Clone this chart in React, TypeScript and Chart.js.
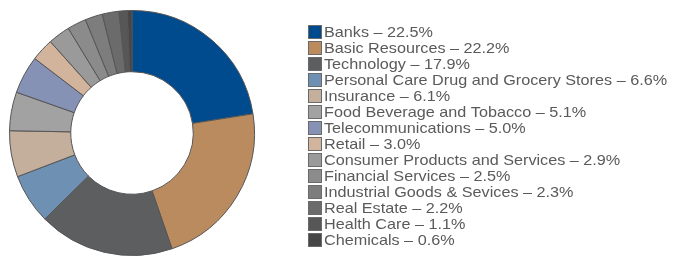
import React, { useEffect, useRef } from "react";
import { Chart, registerables } from "chart.js";

Chart.register(...registerables);

const sectors = [
  "Banks",
  "Basic Resources",
  "Technology",
  "Personal Care Drug and Grocery Stores",
  "Insurance",
  "Food Beverage and Tobacco",
  "Telecommunications",
  "Retail",
  "Consumer Products and Services",
  "Financial Services",
  "Industrial Goods & Sevices",
  "Real Estate",
  "Health Care",
  "Chemicals",
];

const weights = [22.5, 22.2, 17.9, 6.6, 6.1, 5.1, 5.0, 3.0, 2.9, 2.5, 2.3, 2.2, 1.1, 0.6];

const sectorColors = [
  "#004B8D",
  "#B98B5E",
  "#5D5E60",
  "#6E91B3",
  "#C4AE9C",
  "#A2A2A2",
  "#8591B5",
  "#D2B39B",
  "#9A9A9A",
  "#8B8B8B",
  "#7D7D7D",
  "#6B6B6B",
  "#575757",
  "#464646",
];

const sideLegend = {
  id: "sideLegend",
  afterDraw(chart: any) {
    const ctx = chart.ctx;
    const ds = chart.data.datasets[0];
    const labels = chart.data.labels as string[];
    ctx.save();
    ctx.textBaseline = "middle";
    ctx.textAlign = "left";
    labels.forEach((lab, i) => {
      const y = 25 + i * 16;
      ctx.fillStyle = ds.backgroundColor[i];
      ctx.fillRect(308, y, 14, 14);
      ctx.strokeStyle = "#6a6a6a";
      ctx.lineWidth = 1;
      ctx.strokeRect(308.5, y + 0.5, 13, 13);
      ctx.save();
      ctx.translate(324, y + 8);
      ctx.scale(1.08, 1);
      ctx.font = '15px "Liberation Sans", Arial, sans-serif';
      ctx.fillStyle = "#5a5a5a";
      ctx.fillText(`${lab} – ${Number(ds.data[i]).toFixed(1)}%`, 0, 0);
      ctx.restore();
    });
    ctx.restore();
  },
};

export default function App() {
  const canvasRef = useRef<HTMLCanvasElement | null>(null);

  useEffect(() => {
    if (!canvasRef.current) return;
    const chart = new Chart(canvasRef.current, {
      type: "doughnut",
      data: {
        labels: sectors,
        datasets: [
          {
            data: weights,
            backgroundColor: sectorColors,
            borderColor: "#555555",
            borderWidth: 1,
          },
        ],
      },
      options: {
        responsive: false,
        animation: false,
        cutout: "50%",
        layout: { padding: { left: 8, right: 424, top: 10, bottom: 0 } },
        plugins: {
          legend: { display: false },
          tooltip: { enabled: false },
        },
      },
      plugins: [sideLegend],
    });
    return () => chart.destroy();
  }, []);

  return (
    <div style={{ position: "fixed", left: 0, top: 0, width: 680, height: 256, background: "#fff" }}>
      <canvas ref={canvasRef} width={680} height={256} />
    </div>
  );
}
